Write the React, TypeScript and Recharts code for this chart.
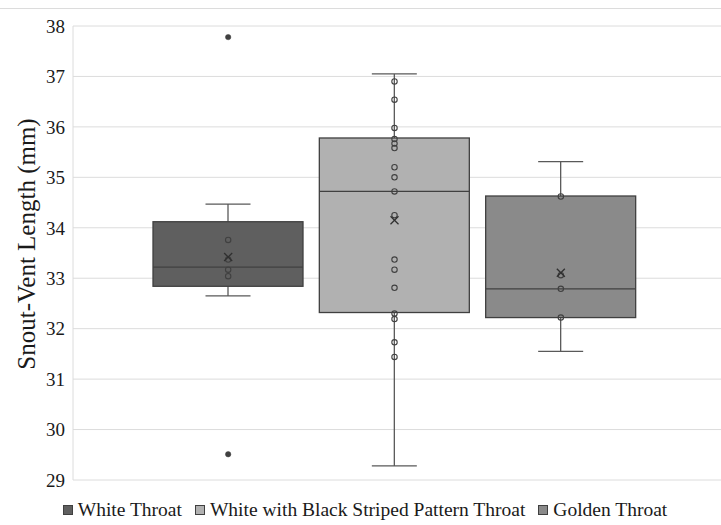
import { ComposedChart, Bar, Scatter, XAxis, YAxis, CartesianGrid, Legend } from 'recharts';

const categories = ['White Throat', 'White with Black Striped Pattern Throat', 'Golden Throat'];
const whiskerLow = [32.65, 29.28, 31.55];
const q1 = [32.84, 32.32, 32.22];
const median = [33.22, 34.72, 32.79];
const q3 = [34.12, 35.78, 34.63];
const whiskerHigh = [34.47, 37.05, 35.31];
const means = [33.42, 34.15, 33.11];
const innerPoints = [
  [33.76, 33.37, 33.17, 33.04],
  [36.9, 36.54, 35.98, 35.76, 35.67, 35.58, 35.2, 35.0, 34.72, 34.25, 33.37, 33.17, 32.81, 32.3, 32.19, 31.73, 31.44],
  [34.62, 33.06, 32.79, 32.22],
];
const outliers = [[37.78, 29.51], [], []];
const yTicks = [29, 30, 31, 32, 33, 34, 35, 36, 37, 38];

const FILLS = ['#5f5f5f', '#b1b1b1', '#8a8a8a'];
const EDGE = '#404040';
const FONT = "'Liberation Serif', 'Times New Roman', serif";

const boxData = categories.map((cat, i) => ({
  cat,
  range: [whiskerLow[i], whiskerHigh[i]],
  q1: q1[i],
  median: median[i],
  q3: q3[i],
  idx: i,
}));

const innerData = categories.flatMap((cat, i) => innerPoints[i].map(v => ({ cat, v })));
const outlierData = categories.flatMap((cat, i) => outliers[i].map(v => ({ cat, v })));
const meanData = categories.map((cat, i) => ({ cat, v: means[i] }));

function BoxShape(props: any) {
  const { x, y, width, height, payload } = props;
  const [lo, hi] = payload.range;
  const toY = (v: number) => y + ((hi - v) / (hi - lo)) * height;
  const cx = x + width / 2;
  const yQ1 = toY(payload.q1);
  const yQ3 = toY(payload.q3);
  const yMed = toY(payload.median);
  const capW = 45;
  return (
    <g>
      <line x1={cx} x2={cx} y1={y} y2={yQ3} stroke="#595959" strokeWidth={1.3} />
      <line x1={cx} x2={cx} y1={yQ1} y2={y + height} stroke="#595959" strokeWidth={1.3} />
      <line x1={cx - capW / 2} x2={cx + capW / 2} y1={y} y2={y} stroke="#595959" strokeWidth={1.3} />
      <line x1={cx - capW / 2} x2={cx + capW / 2} y1={y + height} y2={y + height} stroke="#595959" strokeWidth={1.3} />
      <rect x={x} y={yQ3} width={width} height={yQ1 - yQ3} fill={FILLS[payload.idx]} stroke={EDGE} strokeWidth={1.3} />
      <line x1={x} x2={x + width} y1={yMed} y2={yMed} stroke={EDGE} strokeWidth={1.3} />
    </g>
  );
}

const HollowDot = (props: any) => (
  <circle cx={props.cx} cy={props.cy} r={2.7} fill="none" stroke={EDGE} strokeWidth={1.1} />
);
const FilledDot = (props: any) => (
  <circle cx={props.cx} cy={props.cy} r={2.7} fill={EDGE} stroke={EDGE} strokeWidth={0.5} />
);
const MeanMark = (props: any) => {
  const { cx, cy } = props;
  const s = 4;
  return (
    <g stroke="#303030" strokeWidth={1.3}>
      <line x1={cx - s} y1={cy - s} x2={cx + s} y2={cy + s} />
      <line x1={cx - s} y1={cy + s} x2={cx + s} y2={cy - s} />
    </g>
  );
};

function LegendContent() {
  return (
    <div style={{ display: 'flex', justifyContent: 'center', paddingLeft: 9, fontFamily: FONT, fontSize: 19.5, color: '#1a1a1a' }}>
      {categories.map((c, i) => (
        <span key={c} style={{ display: 'flex', alignItems: 'center', marginRight: i < 2 ? 13 : 0 }}>
          <span style={{ width: 8, height: 8, background: FILLS[i], border: `1px solid ${EDGE}`, marginRight: 5 }} />
          {c}
        </span>
      ))}
    </div>
  );
}

export default function App() {
  return (
    <div style={{ position: 'absolute', left: 0, top: 0, width: 721, height: 525, background: '#fff', fontFamily: FONT }}>
      <div style={{ position: 'absolute', left: 0, top: 8, width: 721, borderTop: '1px solid #dcdcdc' }} />
      <ComposedChart
        width={721}
        height={525}
        data={boxData}
        style={{ fontFamily: FONT }}
        margin={{ top: 26, right: 0, bottom: 23, left: 0 }}
      >
        <CartesianGrid vertical={false} stroke="#dcdcdc" />
        <XAxis dataKey="cat" type="category" allowDuplicatedCategory={false} hide padding={{ left: 72, right: 77 }} />
        <YAxis
          type="number"
          domain={[29, 38]}
          ticks={yTicks}
          interval={0}
          width={73}
          axisLine={{ stroke: '#dcdcdc' }}
          tickLine={false}
          tickMargin={2}
          tick={{ fontFamily: FONT, fontSize: 19, fill: '#1a1a1a', style: { fontFamily: FONT } }}
          label={{
            content: () => (
              <text
                x={26}
                y={244}
                transform="rotate(-90 26 244)"
                textAnchor="middle"
                dominantBaseline="central"
                style={{ fontFamily: FONT }}
                fontSize={25}
                fill="#1a1a1a"
              >
                Snout-Vent Length (mm)
              </text>
            ),
          }}
        />
        <Bar dataKey="range" barSize={150} shape={BoxShape} isAnimationActive={false} />
        <Scatter data={innerData} dataKey="v" shape={HollowDot} isAnimationActive={false} />
        <Scatter data={outlierData} dataKey="v" shape={FilledDot} isAnimationActive={false} />
        <Scatter data={meanData} dataKey="v" shape={MeanMark} isAnimationActive={false} />
        <Legend content={LegendContent} wrapperStyle={{ top: 499, left: 0, width: 721 }} />
      </ComposedChart>
    </div>
  );
}
